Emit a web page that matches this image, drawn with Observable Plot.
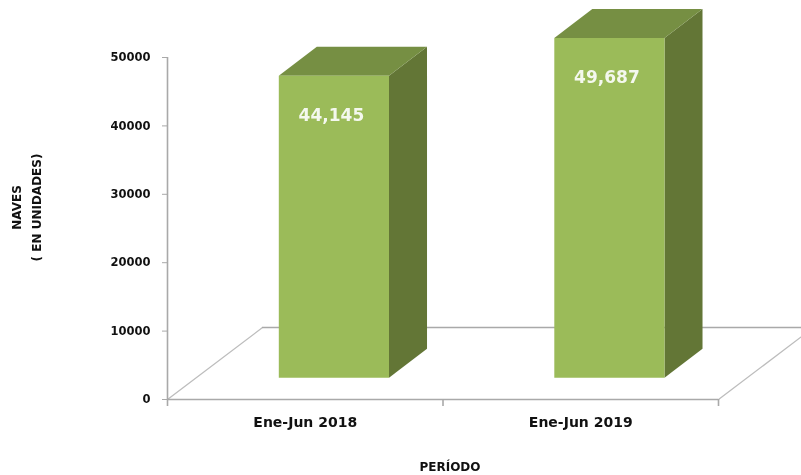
<!DOCTYPE html>
<html>
<head>
<meta charset="utf-8">
<script src="https://cdn.jsdelivr.net/npm/d3@7"></script>
<script src="https://cdn.jsdelivr.net/npm/@observablehq/plot@0.6"></script>
<style>
html,body{margin:0;padding:0;background:#fff;overflow:hidden}
svg{display:block;filter:blur(0.5px)}
</style>
</head>
<body>
<div id="chart"></div>
<script>
const categories = ["Ene-Jun 2018", "Ene-Jun 2019"];
const values = [44145, 49687];
const valueLabels = ["44,145", "49,687"];
const yTicks = [0, 10000, 20000, 30000, 40000, 50000];

// 3D projection expressed in data units
const barStart = 0.404, barWidth = 0.4;
const barLift = 3170, depthX = 0.138, depthY = 4240;
const floorX = 0.345, floorY = 10526;

const faces = values.flatMap((v, i) => {
  const x0 = i + barStart, x1 = x0 + barWidth, x2 = x1 + depthX;
  const y0 = barLift, y1 = barLift + v;
  const poly = (face, pts) => pts.map(([x, y]) => ({x, y, id: `${face}${i}`, face}));
  return [
    ...poly("side", [[x1, y0], [x2, y0 + depthY], [x2, y1 + depthY], [x1, y1]]),
    ...poly("top", [[x0, y1], [x0 + depthX, y1 + depthY], [x2, y1 + depthY], [x1, y1]]),
    ...poly("front", [[x0, y0], [x1, y0], [x1, y1], [x0, y1]])
  ];
});
const faceColor = {front: "#9bbb59", top: "#768f43", side: "#637636"};
const bars = values.map((v, i) => ({cat: categories[i], label: valueLabels[i], i, top: v + barLift}));
const gray = "#a9a9a9";
const font = "DejaVu Sans";

const chart = Plot.plot({
  width: 801,
  height: 475,
  marginLeft: 167,
  marginRight: 83,
  marginTop: 57,
  marginBottom: 76,
  style: {background: "#fff", fontFamily: font, overflow: "hidden"},
  x: {domain: [0, 2], axis: null},
  y: {domain: [0, 50000], axis: null},
  marks: [
    // floor and back wall
    Plot.line([{x: 0, y: 0}, {x: floorX, y: floorY}], {x: "x", y: "y", stroke: "#bdbdbd", strokeWidth: 1.3}),
    Plot.line([{x: 2, y: 0}, {x: 2 + floorX, y: floorY}], {x: "x", y: "y", stroke: "#bdbdbd", strokeWidth: 1.3}),
    Plot.line([{x: floorX, y: floorY}, {x: 2 + floorX, y: floorY}], {x: "x", y: "y", stroke: "#a9a9a9", strokeWidth: 1.4}),
    // axes
    Plot.ruleX([0], {stroke: gray, strokeWidth: 1.6}),
    Plot.ruleY([0], {stroke: gray, strokeWidth: 1.6}),
    Plot.axisY({
      ticks: yTicks, tickSize: 5, tickPadding: 12, stroke: gray, color: "#111",
      fontSize: 11.5, fontWeight: "bold", fontFamily: font, label: null, tickFormat: d3.format("d")
    }),
    Plot.axisX({
      ticks: [0, 1, 2], tickSize: 7, label: null, tickFormat: () => "",
      stroke: gray, strokeWidth: 1.6
    }),
    Plot.axisX({
      ticks: [0.5, 1.5], tickSize: 0, tickPadding: 18, label: null,
      tickFormat: d => categories[Math.floor(d)],
      fill: "#111", fontSize: 14, fontWeight: "bold", fontFamily: font
    }),
    // bars
    Plot.line(faces, {
      x: "x", y: "y", z: "id", curve: "linear-closed",
      fill: d => faceColor[d.face], stroke: "none"
    }),
    Plot.text(bars, {
      x: d => d.i + barStart + barWidth / 2, y: "top", text: "label", dx: -2.5, dy: 39.5,
      fill: "#f4f8ee", fontSize: 17, fontFamily: font, fontWeight: 600
    }),
    // titles
    Plot.text(["NAVES\n( EN UNIDADES)"], {
      frameAnchor: "left", textAnchor: "middle", rotate: -90, dx: -142.5, dy: -21, lineHeight: 1.67,
      fill: "#111", fontSize: 12, fontWeight: "bold", fontFamily: font
    }),
    Plot.text(["PERÍODO"], {
      frameAnchor: "bottom", dy: 71, dx: 7,
      fill: "#111", fontSize: 12, fontWeight: "bold", fontFamily: font
    })
  ]
});
document.getElementById("chart").append(chart);
</script>
</body>
</html>
